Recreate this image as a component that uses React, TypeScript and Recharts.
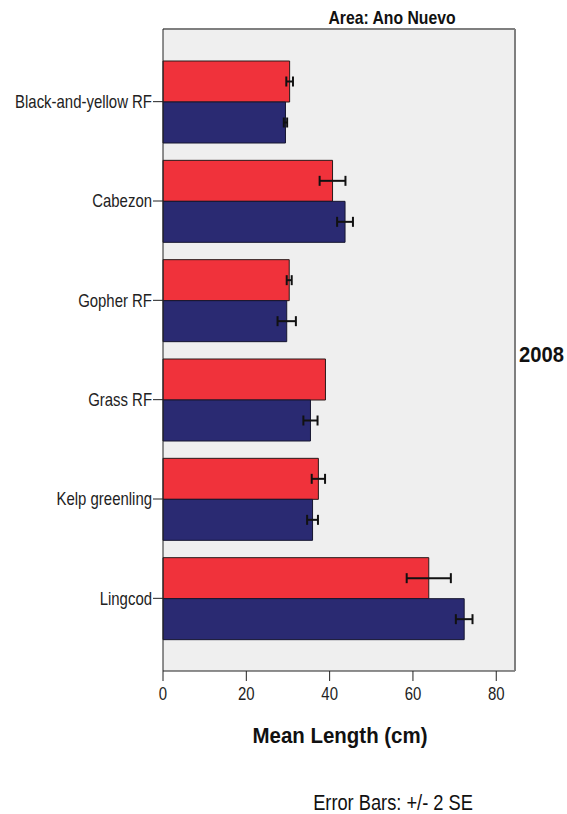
import React from 'react';
import {
  BarChart,
  Bar,
  XAxis,
  YAxis,
  ErrorBar,
  CartesianGrid,
} from 'recharts';

const species = ['Black-and-yellow RF', 'Cabezon', 'Gopher RF', 'Grass RF', 'Kelp greenling', 'Lingcod'];
const redMeans = [30.4, 40.7, 30.3, 39.0, 37.3, 63.8];
const redErr = [0.8, 3.1, 0.6, null, 1.6, 5.3];
const blueMeans = [29.4, 43.7, 29.7, 35.4, 35.9, 72.3];
const blueErr = [0.4, 1.9, 2.2, 1.7, 1.3, 2.0];
const xTicks = [0, 20, 40, 60, 80];
const X_MAX = 84.5;

// no narrow font installed, so squeeze Liberation Sans horizontally
const FONT = "'Liberation Sans', Arial, sans-serif";
const SQUEEZE = 0.83;
const RED = '#f0323b';
const BLUE = '#2a2a72';

const data = species.map((name, i) => ({
  name,
  red: redMeans[i],
  redErr: redErr[i],
  blue: blueMeans[i],
  blueErr: blueErr[i],
}));

const YTick = (props: any) => {
  const { x, y, payload } = props;
  return (
    <g transform={`translate(${x},${y}) scale(${SQUEEZE},1)`}>
      <text x={0} y={0} dy="0.355em" textAnchor="end" fontFamily={FONT} fontSize={18} fill="#222">
        {payload.value}
      </text>
    </g>
  );
};

const XTick = (props: any) => {
  const { x, y, payload } = props;
  return (
    <g transform={`translate(${x},${y}) scale(${SQUEEZE},1)`}>
      <text x={0} y={0} dy="0.71em" textAnchor="middle" fontFamily={FONT} fontSize={18} fill="#222">
        {payload.value}
      </text>
    </g>
  );
};

const Squeezed = ({ x, y, s, anchor = 'middle', size, bold = false, children }: any) => (
  <g transform={`translate(${x},${y}) scale(${s},1)`}>
    <text x={0} y={0} textAnchor={anchor} fontFamily={FONT} fontWeight={bold ? 'bold' : 'normal'} fontSize={size} fill="#111">
      {children}
    </text>
  </g>
);

export default function App() {
  return (
    <div style={{ position: 'relative', width: 567, height: 814, background: '#fff' }}>
      <style>{`body { margin: 0; }`}</style>
      <BarChart
        width={567}
        height={814}
        data={data}
        layout="vertical"
        margin={{ top: 28, right: 51, bottom: 113, left: 0 }}
        barCategoryGap={9}
        barGap={0}
      >
        <CartesianGrid horizontal={false} vertical={false} fill="#efefef" />
        <XAxis
          type="number"
          domain={[0, X_MAX]}
          ticks={xTicks}
          height={30}
          tickSize={10}
          tickMargin={6}
          axisLine={{ stroke: '#222' }}
          tickLine={{ stroke: '#222' }}
          tick={<XTick />}
        />
        <XAxis
          xAxisId="top"
          orientation="top"
          type="number"
          domain={[0, X_MAX]}
          height={1}
          tick={false}
          tickLine={false}
          axisLine={{ stroke: '#7f7f7f', strokeWidth: 2 }}
        />
        <YAxis
          type="category"
          dataKey="name"
          width={163}
          tickSize={10}
          tickMargin={1}
          padding={{ top: 23, bottom: 23 }}
          axisLine={{ stroke: '#222' }}
          tickLine={{ stroke: '#222' }}
          tick={<YTick />}
        />
        <YAxis
          yAxisId="right"
          orientation="right"
          type="category"
          dataKey="name"
          width={1}
          tick={false}
          tickLine={false}
          axisLine={{ stroke: '#7f7f7f', strokeWidth: 2 }}
        />
        <Bar dataKey="red" fill={RED} stroke="#2a1a1a" strokeWidth={1} isAnimationActive={false}>
          <ErrorBar dataKey="redErr" direction="x" width={5} stroke="#111" strokeWidth={2} />
        </Bar>
        <Bar dataKey="blue" fill={BLUE} stroke="#161630" strokeWidth={1} isAnimationActive={false}>
          <ErrorBar dataKey="blueErr" direction="x" width={5} stroke="#111" strokeWidth={2} />
        </Bar>
      </BarChart>
      <svg
        width={567}
        height={814}
        style={{ position: 'absolute', left: 0, top: 0, pointerEvents: 'none' }}
      >
        <Squeezed x={392} y={24} s={0.83} size={19} bold>Area: Ano Nuevo</Squeezed>
        <Squeezed x={519} y={362} s={0.92} size={22} bold anchor="start">2008</Squeezed>
        <Squeezed x={340} y={743} s={0.93} size={22} bold>Mean Length (cm)</Squeezed>
        <Squeezed x={393} y={810} s={0.83} size={22}>Error Bars:  +/- 2 SE</Squeezed>
      </svg>
    </div>
  );
}
